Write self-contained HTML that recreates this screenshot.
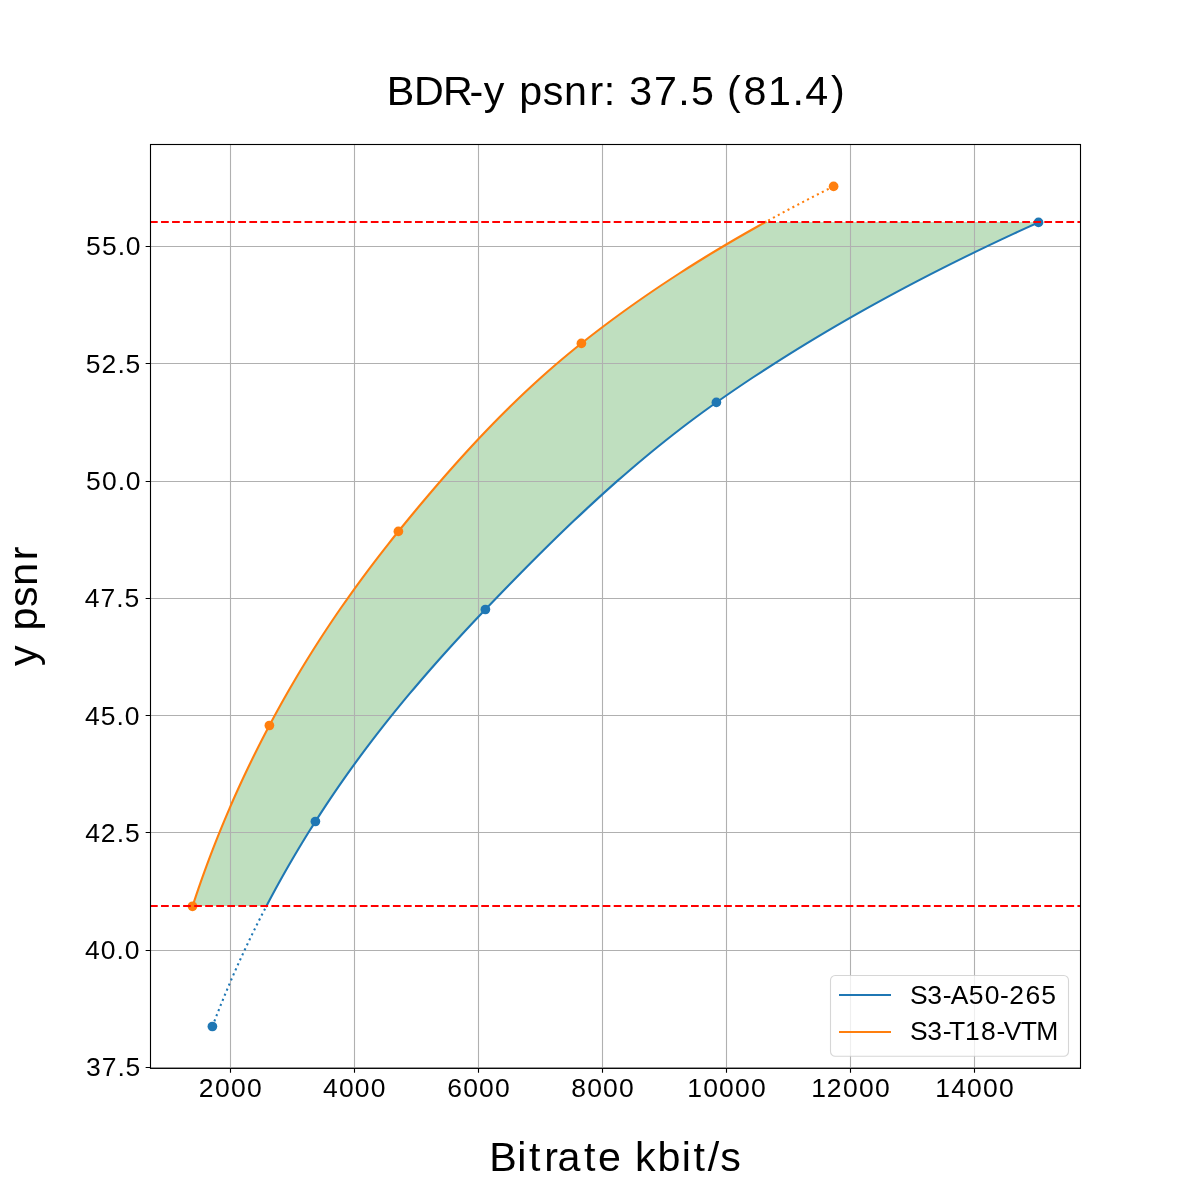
<!DOCTYPE html>
<html><head><meta charset="utf-8"><style>
html,body{margin:0;padding:0;background:#fff;}
svg{display:block;will-change:transform;}
text{font-family:"Liberation Sans",sans-serif;fill:#000;}
</style></head><body>
<svg width="1200" height="1200" viewBox="0 0 1200 1200">
<rect x="150" y="144" width="930" height="924" fill="#fff"/>
<path d="M192.60 906.00 L194.11 901.41 L195.63 896.82 L197.19 892.23 L198.76 887.64 L200.35 883.05 L201.97 878.46 L203.61 873.87 L205.27 869.28 L206.96 864.68 L208.67 860.09 L210.40 855.50 L212.15 850.91 L213.93 846.32 L215.73 841.73 L217.55 837.14 L219.40 832.55 L221.27 827.96 L223.17 823.37 L225.09 818.78 L227.03 814.19 L229.00 809.60 L230.99 805.01 L233.01 800.42 L235.05 795.83 L237.12 791.23 L239.21 786.64 L241.32 782.05 L243.46 777.46 L245.63 772.87 L247.81 768.28 L250.03 763.69 L252.27 759.10 L254.53 754.51 L256.82 749.92 L259.13 745.33 L261.47 740.74 L263.83 736.15 L266.21 731.56 L268.62 726.97 L271.06 722.38 L273.52 717.79 L276.01 713.19 L278.53 708.60 L281.08 704.01 L283.65 699.42 L286.25 694.83 L288.88 690.24 L291.53 685.65 L294.22 681.06 L296.93 676.47 L299.67 671.88 L302.44 667.29 L305.24 662.70 L308.07 658.11 L310.93 653.52 L313.82 648.93 L316.74 644.34 L319.68 639.74 L322.66 635.15 L325.67 630.56 L328.71 625.97 L331.78 621.38 L334.88 616.79 L338.01 612.20 L341.17 607.61 L344.36 603.02 L347.59 598.43 L350.85 593.84 L354.14 589.25 L357.46 584.66 L360.81 580.07 L364.20 575.48 L367.61 570.89 L371.07 566.30 L374.55 561.70 L378.07 557.11 L381.62 552.52 L385.21 547.93 L388.82 543.34 L392.48 538.75 L396.17 534.16 L399.89 529.57 L403.63 524.98 L407.39 520.39 L411.17 515.80 L414.98 511.21 L418.80 506.62 L422.65 502.03 L426.52 497.44 L430.42 492.85 L434.34 488.26 L438.29 483.66 L442.27 479.07 L446.28 474.48 L450.32 469.89 L454.40 465.30 L458.50 460.71 L462.65 456.12 L466.83 451.53 L471.05 446.94 L475.31 442.35 L479.61 437.76 L483.96 433.17 L488.36 428.58 L492.80 423.99 L497.30 419.40 L501.84 414.81 L506.45 410.21 L511.11 405.62 L515.83 401.03 L520.61 396.44 L525.46 391.85 L530.38 387.26 L535.37 382.67 L540.43 378.08 L545.57 373.49 L550.79 368.90 L556.09 364.31 L561.48 359.72 L566.96 355.13 L572.54 350.54 L578.21 345.95 L583.98 341.36 L589.84 336.77 L595.77 332.17 L601.79 327.58 L607.89 322.99 L614.07 318.40 L620.34 313.81 L626.70 309.22 L633.14 304.63 L639.68 300.04 L646.30 295.45 L653.01 290.86 L659.82 286.27 L666.72 281.68 L673.71 277.09 L680.81 272.50 L688.00 267.91 L695.29 263.32 L702.68 258.72 L710.17 254.13 L717.77 249.54 L725.47 244.95 L733.28 240.36 L741.19 235.77 L749.22 231.18 L757.36 226.59 L765.61 222.00 L1039.39 222.00 L1029.24 226.59 L1019.21 231.18 L1009.30 235.77 L999.50 240.36 L989.81 244.95 L980.23 249.54 L970.76 254.13 L961.39 258.72 L952.14 263.32 L942.99 267.91 L933.94 272.50 L925.00 277.09 L916.15 281.68 L907.41 286.27 L898.77 290.86 L890.23 295.45 L881.78 300.04 L873.43 304.63 L865.17 309.22 L857.01 313.81 L848.94 318.40 L840.96 322.99 L833.07 327.58 L825.27 332.17 L817.56 336.77 L809.94 341.36 L802.40 345.95 L794.95 350.54 L787.58 355.13 L780.30 359.72 L773.10 364.31 L765.98 368.90 L758.94 373.49 L751.98 378.08 L745.10 382.67 L738.30 387.26 L731.57 391.85 L724.92 396.44 L718.34 401.03 L711.85 405.62 L705.46 410.21 L699.16 414.81 L692.96 419.40 L686.85 423.99 L680.83 428.58 L674.90 433.17 L669.04 437.76 L663.26 442.35 L657.56 446.94 L651.93 451.53 L646.37 456.12 L640.87 460.71 L635.44 465.30 L630.07 469.89 L624.75 474.48 L619.49 479.07 L614.29 483.66 L609.14 488.26 L604.03 492.85 L598.97 497.44 L593.96 502.03 L588.99 506.62 L584.06 511.21 L579.17 515.80 L574.32 520.39 L569.50 524.98 L564.71 529.57 L559.96 534.16 L555.24 538.75 L550.54 543.34 L545.88 547.93 L541.24 552.52 L536.63 557.11 L532.04 561.70 L527.47 566.30 L522.92 570.89 L518.40 575.48 L513.89 580.07 L509.40 584.66 L504.93 589.25 L500.48 593.84 L496.04 598.43 L491.62 603.02 L487.21 607.61 L482.82 612.20 L478.45 616.79 L474.11 621.38 L469.80 625.97 L465.51 630.56 L461.26 635.15 L457.03 639.74 L452.83 644.34 L448.66 648.93 L444.52 653.52 L440.41 658.11 L436.34 662.70 L432.29 667.29 L428.27 671.88 L424.29 676.47 L420.33 681.06 L416.41 685.65 L412.52 690.24 L408.66 694.83 L404.84 699.42 L401.05 704.01 L397.29 708.60 L393.56 713.19 L389.87 717.79 L386.21 722.38 L382.58 726.97 L378.99 731.56 L375.43 736.15 L371.91 740.74 L368.41 745.33 L364.96 749.92 L361.53 754.51 L358.14 759.10 L354.78 763.69 L351.46 768.28 L348.17 772.87 L344.92 777.46 L341.70 782.05 L338.51 786.64 L335.35 791.23 L332.23 795.83 L329.15 800.42 L326.09 805.01 L323.07 809.60 L320.09 814.19 L317.14 818.78 L314.21 823.37 L311.32 827.96 L308.46 832.55 L305.62 837.14 L302.82 841.73 L300.04 846.32 L297.29 850.91 L294.56 855.50 L291.87 860.09 L289.20 864.68 L286.56 869.28 L283.95 873.87 L281.37 878.46 L278.81 883.05 L276.28 887.64 L273.78 892.23 L271.31 896.82 L268.87 901.41 L266.45 906.00 Z" fill="#bfdfbf" stroke="none"/>
<path d="M230.5 144V1068 M354.5 144V1068 M478.5 144V1068 M602.5 144V1068 M726.5 144V1068 M850.5 144V1068 M974.5 144V1068 M150 1067.5H1080 M150 950.5H1080 M150 832.5H1080 M150 715.5H1080 M150 598.5H1080 M150 481.5H1080 M150 363.5H1080 M150 246.5H1080" stroke="#b0b0b0" stroke-width="1.111" fill="none"/>
<path d="M212.40 1026.50 L213.98 1022.34 L215.57 1018.19 L217.19 1014.03 L218.83 1009.88 L220.48 1005.72 L222.16 1001.57 L223.85 997.41 L225.57 993.26 L227.30 989.10 L229.06 984.95 L230.83 980.79 L232.63 976.64 L234.45 972.48 L236.29 968.33 L238.15 964.17 L240.03 960.02 L241.93 955.86 L243.86 951.71 L245.80 947.55 L247.77 943.40 L249.75 939.24 L251.76 935.09 L253.80 930.93 L255.85 926.78 L257.93 922.62 L260.02 918.47 L262.14 914.31 L264.29 910.16 L266.45 906.00" stroke="#1f77b4" stroke-width="2.083" fill="none" stroke-dasharray="2.083 3.438" stroke-linecap="butt"/>
<path d="M266.45 906.00 L269.48 900.26 L272.55 894.51 L275.67 888.77 L278.83 883.02 L282.03 877.28 L285.27 871.53 L288.56 865.79 L291.90 860.04 L295.27 854.30 L298.70 848.55 L302.16 842.81 L305.67 837.07 L309.22 831.32 L312.82 825.58 L316.46 819.83 L320.15 814.09 L323.90 808.34 L327.69 802.60 L331.54 796.85 L335.44 791.11 L339.39 785.36 L343.40 779.62 L347.46 773.88 L351.57 768.13 L355.74 762.39 L359.95 756.64 L364.22 750.90 L368.55 745.15 L372.92 739.41 L377.35 733.66 L381.83 727.92 L386.37 722.17 L390.96 716.43 L395.59 710.69 L400.29 704.94 L405.03 699.20 L409.82 693.45 L414.67 687.71 L419.56 681.96 L424.50 676.22 L429.50 670.47 L434.54 664.73 L439.63 658.98 L444.77 653.24 L449.96 647.50 L455.19 641.75 L460.47 636.01 L465.79 630.26 L471.16 624.52 L476.57 618.77 L482.03 613.03 L487.52 607.28 L493.04 601.54 L498.59 595.79 L504.15 590.05 L509.75 584.31 L515.37 578.56 L521.02 572.82 L526.70 567.07 L532.41 561.33 L538.16 555.58 L543.95 549.84 L549.78 544.09 L555.65 538.35 L561.57 532.61 L567.53 526.86 L573.55 521.12 L579.62 515.37 L585.75 509.63 L591.95 503.88 L598.20 498.14 L604.53 492.39 L610.93 486.65 L617.41 480.90 L623.97 475.16 L630.62 469.42 L637.36 463.67 L644.20 457.93 L651.14 452.18 L658.18 446.44 L665.34 440.69 L672.62 434.95 L680.02 429.20 L687.55 423.46 L695.22 417.71 L703.04 411.97 L711.01 406.23 L719.13 400.48 L727.38 394.74 L735.75 388.99 L744.24 383.25 L752.85 377.50 L761.59 371.76 L770.45 366.01 L779.43 360.27 L788.55 354.52 L797.79 348.78 L807.17 343.04 L816.69 337.29 L826.34 331.55 L836.12 325.80 L846.05 320.06 L856.12 314.31 L866.34 308.57 L876.70 302.82 L887.22 297.08 L897.88 291.33 L908.70 285.59 L919.67 279.85 L930.80 274.10 L942.10 268.36 L953.55 262.61 L965.17 256.87 L976.96 251.12 L988.92 245.38 L1001.05 239.63 L1013.35 233.89 L1025.84 228.14 L1038.50 222.40" stroke="#1f77b4" stroke-width="2.083" fill="none" stroke-linecap="square" stroke-linejoin="round"/>
<path d="M833.60 186.40 L831.13 187.63 L828.67 188.86 L826.22 190.08 L823.78 191.31 L821.35 192.54 L818.93 193.77 L816.52 194.99 L814.11 196.22 L811.72 197.45 L809.33 198.68 L806.95 199.90 L804.58 201.13 L802.22 202.36 L799.87 203.59 L797.52 204.81 L795.19 206.04 L792.86 207.27 L790.55 208.50 L788.24 209.72 L785.94 210.95 L783.64 212.18 L781.36 213.41 L779.09 214.63 L776.82 215.86 L774.56 217.09 L772.31 218.32 L770.07 219.54 L767.83 220.77 L765.61 222.00" stroke="#ff7f0e" stroke-width="2.083" fill="none" stroke-dasharray="2.083 3.438" stroke-linecap="butt"/>
<path d="M192.50 906.30 L194.39 900.55 L196.31 894.80 L198.27 889.05 L200.27 883.30 L202.29 877.55 L204.36 871.80 L206.46 866.05 L208.59 860.30 L210.76 854.55 L212.97 848.80 L215.21 843.05 L217.49 837.29 L219.81 831.54 L222.17 825.79 L224.56 820.04 L226.99 814.29 L229.46 808.54 L231.96 802.79 L234.51 797.04 L237.09 791.29 L239.71 785.54 L242.37 779.79 L245.07 774.04 L247.81 768.29 L250.59 762.54 L253.40 756.79 L256.26 751.04 L259.15 745.29 L262.08 739.54 L265.05 733.79 L268.06 728.04 L271.11 722.29 L274.20 716.54 L277.33 710.79 L280.51 705.04 L283.73 699.28 L286.99 693.53 L290.29 687.78 L293.65 682.03 L297.04 676.28 L300.48 670.53 L303.97 664.78 L307.50 659.03 L311.08 653.28 L314.70 647.53 L318.37 641.78 L322.09 636.03 L325.86 630.28 L329.67 624.53 L333.53 618.78 L337.44 613.03 L341.40 607.28 L345.41 601.53 L349.47 595.78 L353.57 590.03 L357.73 584.28 L361.94 578.53 L366.20 572.78 L370.51 567.03 L374.88 561.27 L379.29 555.52 L383.76 549.77 L388.29 544.02 L392.86 538.27 L397.49 532.52 L402.17 526.77 L406.87 521.02 L411.61 515.27 L416.38 509.52 L421.18 503.77 L426.03 498.02 L430.91 492.27 L435.83 486.52 L440.80 480.77 L445.81 475.02 L450.88 469.27 L455.99 463.52 L461.16 457.77 L466.38 452.02 L471.67 446.27 L477.02 440.52 L482.44 434.77 L487.94 429.02 L493.50 423.26 L499.15 417.51 L504.89 411.76 L510.71 406.01 L516.63 400.26 L522.64 394.51 L528.76 388.76 L534.99 383.01 L541.34 377.26 L547.81 371.51 L554.40 365.76 L561.14 360.01 L568.01 354.26 L575.03 348.51 L582.21 342.76 L589.52 337.01 L596.97 331.26 L604.54 325.51 L612.24 319.76 L620.08 314.01 L628.05 308.26 L636.16 302.51 L644.41 296.76 L652.80 291.01 L661.33 285.25 L670.02 279.50 L678.85 273.75 L687.84 268.00 L696.99 262.25 L706.29 256.50 L715.76 250.75 L725.39 245.00 L735.18 239.25 L745.15 233.50 L755.29 227.75 L765.61 222.00" stroke="#ff7f0e" stroke-width="2.083" fill="none" stroke-linecap="square" stroke-linejoin="round"/>
<circle cx="212.40" cy="1026.50" r="4.86" fill="#1f77b4"/>
<circle cx="315.40" cy="821.50" r="4.86" fill="#1f77b4"/>
<circle cx="485.40" cy="609.50" r="4.86" fill="#1f77b4"/>
<circle cx="716.40" cy="402.40" r="4.86" fill="#1f77b4"/>
<circle cx="1038.50" cy="222.40" r="4.86" fill="#1f77b4"/>
<circle cx="192.50" cy="906.30" r="4.86" fill="#ff7f0e"/>
<circle cx="269.40" cy="725.50" r="4.86" fill="#ff7f0e"/>
<circle cx="398.40" cy="531.40" r="4.86" fill="#ff7f0e"/>
<circle cx="581.40" cy="343.40" r="4.86" fill="#ff7f0e"/>
<circle cx="833.60" cy="186.40" r="4.86" fill="#ff7f0e"/>
<path d="M150 222.00H1080 M150 906.00H1080" stroke="#ff0000" stroke-width="2.083" stroke-dasharray="7.708 3.333" fill="none"/>
<rect x="150.5" y="144.5" width="930" height="923.9" fill="none" stroke="#000" stroke-width="1.111" stroke-linejoin="miter"/>
<path d="M230.5 1068v4.86 M354.5 1068v4.86 M478.5 1068v4.86 M602.5 1068v4.86 M726.5 1068v4.86 M850.5 1068v4.86 M974.5 1068v4.86 M150.5 1067.5h-4.86 M150.5 950.5h-4.86 M150.5 832.5h-4.86 M150.5 715.5h-4.86 M150.5 598.5h-4.86 M150.5 481.5h-4.86 M150.5 363.5h-4.86 M150.5 246.5h-4.86" stroke="#000" stroke-width="1.111" fill="none"/>
<text x="198.85 215.09 230.99 246.90" y="1097.10" font-size="26.49">2000</text>
<text x="322.99 338.89 354.80 370.71" y="1097.10" font-size="26.49">4000</text>
<text x="447.23 463.13 479.04 494.94" y="1097.10" font-size="26.49">6000</text>
<text x="571.25 587.16 603.06 618.97" y="1097.10" font-size="26.49">8000</text>
<text x="687.14 703.18 719.08 734.99 750.90" y="1097.10" font-size="26.49">10000</text>
<text x="811.14 826.85 843.08 858.99 874.90" y="1097.10" font-size="26.49">12000</text>
<text x="935.14 951.18 967.08 982.99 998.90" y="1097.10" font-size="26.49">14000</text>
<text x="85.92 101.74 117.40 125.55" y="1076.10" font-size="26.49">37.5</text>
<text x="84.97 100.87 116.48 124.73" y="959.10" font-size="26.49">40.0</text>
<text x="85.23 100.81 116.74 124.89" y="842.10" font-size="26.49">42.5</text>
<text x="84.97 100.78 116.48 124.73" y="725.10" font-size="26.49">45.0</text>
<text x="84.73 100.59 116.24 124.39" y="606.94" font-size="26.49">47.5</text>
<text x="86.02 102.02 117.63 125.87" y="490.10" font-size="26.49">50.0</text>
<text x="85.78 101.45 117.39 125.54" y="373.10" font-size="26.49">52.5</text>
<text x="86.02 101.92 117.63 125.87" y="255.10" font-size="26.49">55.0</text>
<rect x="830.5" y="975.5" width="238" height="80.7" rx="4.7" fill="#fff" fill-opacity="0.8" stroke="#cccccc" stroke-opacity="0.8" stroke-width="1.111"/>
<path d="M839 995H891" stroke="#1f77b4" stroke-width="2.083"/>
<path d="M839 1032H891" stroke="#ff7f0e" stroke-width="2.083"/>
<text x="910.06 927.31 942.70 950.77 968.65 984.65 1000.07 1009.24 1025.48 1041.29" y="1004.10" font-size="26.49">S3-A50-265</text>
<text x="910.09 927.34 942.73 948.92 965.08 981.12 996.55 1003.71 1020.65 1036.13" y="1040.10" font-size="26.49">S3-T18-VTM</text>
<text x="386.75 414.06 443.10 469.47 483.87 488.87 519.17 542.84 563.94 589.51 603.79 608.79 629.37 653.98 678.33 691.01 696.01 727.04 743.44 767.97 792.46 805.28 830.89" y="104.71" font-size="41.21">BDR-y psnr: 37.5 (81.4)</text>
<text x="489.21 517.21 528.97 544.29 557.39 584.03 598.07 603.07 635.02 657.42 681.82 693.58 707.86 720.24" y="1170.97" font-size="41.21">Bitrate kbit/s</text>
<text transform="translate(37.35 700.00) rotate(-90)" x="34.14 39.14 69.44 93.11 114.21 139.78" y="0" font-size="41.21">y psnr</text>
</svg>
</body></html>
